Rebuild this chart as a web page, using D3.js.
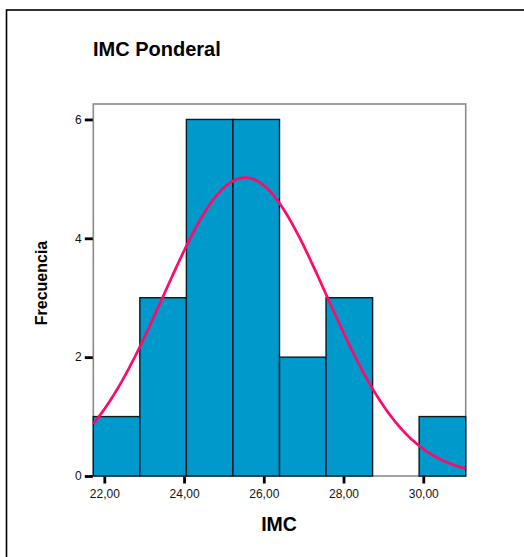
<!DOCTYPE html>
<html>
<head>
<meta charset="utf-8">
<script src="https://cdn.jsdelivr.net/npm/d3@7/dist/d3.min.js"></script>
<style>
  html, body { margin: 0; padding: 0; background: #fff; }
  svg { display: block; font-family: "Liberation Sans", Arial, sans-serif; }
</style>
</head>
<body>
<script>
// Histogram of IMC with fitted normal curve
const binEdges = [21.724, 22.891, 24.059, 25.226, 26.394, 27.561, 28.729, 29.896, 31.064];
const frequencies = [1, 3, 6, 6, 2, 3, 0, 1];
const xTicks = [22, 24, 26, 28, 30];
const yTicks = [0, 2, 4, 6];
const curveMean = 25.53;
const curveSd = 2.04;
const sampleN = 22;

const W = 524, H = 557;
const plot = { left: 93.3, right: 465.7, top: 104, bottom: 476 };

const svg = d3.select("body").append("svg").attr("width", W).attr("height", H);

// outer frame
svg.append("rect")
  .attr("x", 6.5).attr("y", 10).attr("width", 560).attr("height", 600)
  .attr("fill", "none").attr("stroke", "#000").attr("stroke-width", 1.6);

const x = d3.scaleLinear().domain([binEdges[0], binEdges[binEdges.length - 1]]).range([plot.left, plot.right]);
const y = d3.scaleLinear().domain([0, 6.26]).range([plot.bottom, plot.top]);

// plot area frame
svg.append("rect")
  .attr("x", plot.left).attr("y", plot.top)
  .attr("width", plot.right - plot.left).attr("height", plot.bottom - plot.top)
  .attr("fill", "none").attr("stroke", "#8a8a8a").attr("stroke-width", 1.6);

// bars
const bars = frequencies.map((f, i) => ({ x0: binEdges[i], x1: binEdges[i + 1], f }));
svg.append("g").selectAll("rect").data(bars.filter(d => d.f > 0)).join("rect")
  .attr("x", d => x(d.x0)).attr("y", d => y(d.f))
  .attr("width", d => x(d.x1) - x(d.x0)).attr("height", d => y(0) - y(d.f))
  .attr("fill", "#0099cc").attr("stroke", "#0a1a24").attr("stroke-width", 1.4);

// normal curve scaled to counts
const binW = binEdges[1] - binEdges[0];
const density = v => sampleN * binW / (curveSd * Math.sqrt(2 * Math.PI)) *
  Math.exp(-((v - curveMean) ** 2) / (2 * curveSd * curveSd));
const curvePts = d3.range(0, 201).map(i => {
  const v = binEdges[0] + (binEdges[binEdges.length - 1] - binEdges[0]) * i / 200;
  return [v, density(v)];
});
svg.append("path")
  .datum(curvePts)
  .attr("d", d3.line().x(d => x(d[0])).y(d => y(d[1])).curve(d3.curveBasis))
  .attr("fill", "none").attr("stroke", "#ff0a6a").attr("stroke-width", 2.7);

// y axis
const yAxis = svg.append("g").attr("transform", `translate(${plot.left - 0.5},0)`)
  .call(d3.axisLeft(y).tickValues(yTicks).tickFormat(d3.format("d")).tickSize(8).tickPadding(3));
yAxis.select(".domain").remove();
yAxis.selectAll(".tick line").attr("stroke", "#000").attr("stroke-width", 2.8);
yAxis.selectAll(".tick text").attr("font-size", 12).attr("fill", "#111")
  .attr("font-family", "Liberation Sans, Arial, sans-serif");

// x axis
const fmtX = v => d3.format(".2f")(v).replace(".", ",");
const xAxis = svg.append("g").attr("transform", `translate(0,${plot.bottom + 0.5})`)
  .call(d3.axisBottom(x).tickValues(xTicks).tickFormat(fmtX).tickSize(7).tickPadding(6));
xAxis.select(".domain").remove();
xAxis.selectAll(".tick line").attr("stroke", "#000").attr("stroke-width", 2.8);
xAxis.selectAll(".tick text").attr("font-size", 12).attr("fill", "#111")
  .attr("font-family", "Liberation Sans, Arial, sans-serif");

// title and axis titles
svg.append("text").attr("x", 93).attr("y", 56)
  .attr("font-size", 20).attr("font-weight", "bold").attr("fill", "#000")
  .text("IMC Ponderal");

svg.append("text")
  .attr("transform", "translate(46.5,283) rotate(-90)")
  .attr("text-anchor", "middle")
  .attr("font-size", 16).attr("font-weight", "bold").attr("fill", "#000")
  .text("Frecuencia");

svg.append("text").attr("x", 279).attr("y", 531)
  .attr("text-anchor", "middle")
  .attr("font-size", 19.5).attr("font-weight", "bold").attr("fill", "#000")
  .text("IMC");
</script>
</body>
</html>
